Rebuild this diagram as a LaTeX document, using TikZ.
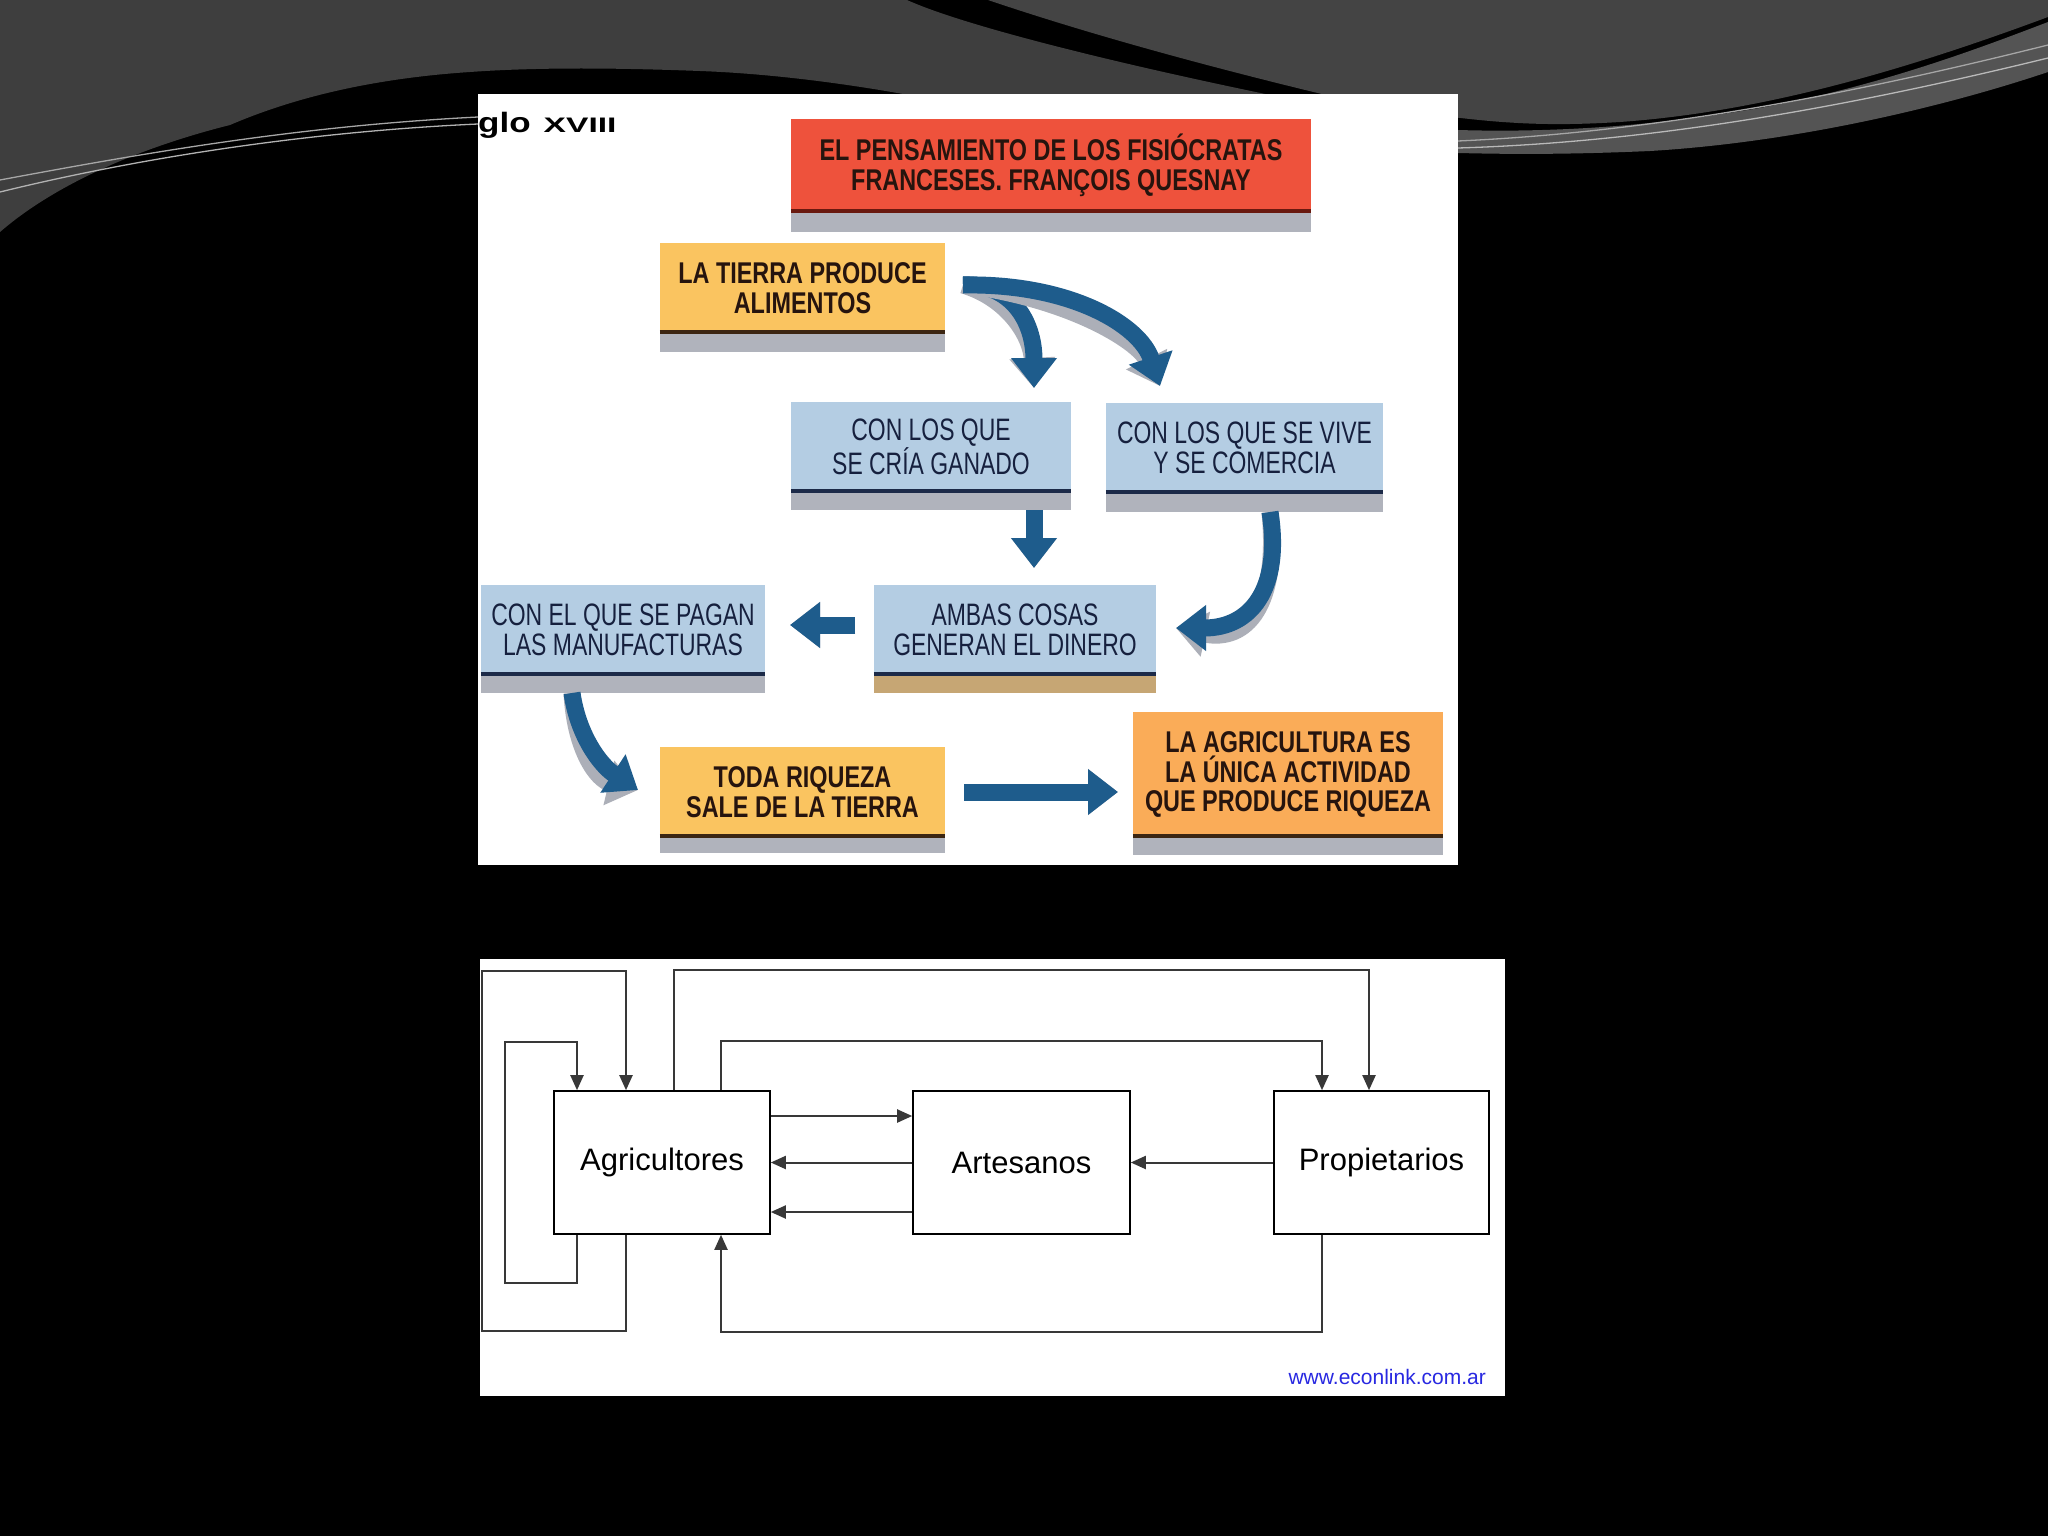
\documentclass[tikz,border=0pt]{standalone}
\usepackage{fontspec}
\setmainfont{Liberation Sans}
\newfontfamily\condbold[FakeStretch=0.78]{Liberation Sans}
\newfontfamily\condreg[FakeStretch=0.74]{Liberation Sans}
\usetikzlibrary{arrows.meta,calc}
\definecolor{bggray}{RGB}{62,62,62}
\definecolor{bggrayb}{RGB}{68,68,68}
\definecolor{swoosh}{RGB}{84,84,84}
\definecolor{titlered}{RGB}{238,82,60}
\definecolor{titleline}{RGB}{105,25,15}
\definecolor{cardyellow}{RGB}{250,196,96}
\definecolor{cardorange}{RGB}{250,172,88}
\definecolor{cardblue}{RGB}{180,205,227}
\definecolor{stripgray}{RGB}{176,179,188}
\definecolor{striptan}{RGB}{198,166,116}
\definecolor{linebrown}{RGB}{60,38,18}
\definecolor{linenavy}{RGB}{28,42,72}
\definecolor{txtdark}{RGB}{38,20,14}
\definecolor{txtnavy}{RGB}{22,32,62}
\definecolor{arrowblue}{RGB}{30,92,140}
\definecolor{shadowgray}{RGB}{172,175,184}
\definecolor{urlblue}{RGB}{40,40,225}
\newcommand\cardfoot[4]{%
  \fill[#3] (#1.south west) rectangle ([yshift=-#2]#1.south east);
  \draw[#4, line width=4pt] ([yshift=1pt]#1.south west) -- ([yshift=1pt]#1.south east);}
\newcommand\fatarrow[1]{\draw[bigshadow] #1; \draw[bigarrow] #1;}
\begin{document}
\begin{tikzpicture}[x=1pt,y=-1pt,
  boldcard/.style={inner sep=0pt, align=center, text=txtdark, font=\condbold\bfseries\fontsize{30}{29.5}\selectfont},
  bluecard/.style={inner sep=0pt, align=center, fill=cardblue, text=txtnavy, font=\condreg\fontsize{31}{30}\selectfont},
  bigarrow/.style={draw=arrowblue, line width=17pt, -{Triangle[width=44pt,length=30pt]}},
  bigshadow/.style={draw=shadowgray, line width=17pt, -{Triangle[width=44pt,length=30pt]}, shift={(-3,15)}},
  actor/.style={draw=black, line width=1.6pt, fill=white, inner sep=0pt, minimum width=216pt, minimum height=143pt, font=\fontsize{31}{36}\selectfont},
  flow/.style={draw=black!78, line width=2pt, -{Triangle[width=13pt,length=15pt]}}
]
\useasboundingbox (0,0) rectangle (2048,1536);
% background
\fill[black] (0,0) rectangle (2048,1536);
\fill[bggray] (0,0) -- (907,0) .. controls (960,24) and (1100,60) .. (1275,96) -- (914,96)
  .. controls (860,86) and (780,74) .. (700,71) .. controls (620,68) and (540,67) .. (470,72)
  .. controls (380,78) and (300,95) .. (230,125) .. controls (150,145) and (60,180) .. (0,232) -- cycle;
\fill[bggrayb] (988,0) -- (2048,0) -- (2048,17) .. controls (1900,72) and (1760,112) .. (1620,122)
  .. controls (1540,127) and (1490,123) .. (1400,110) -- (1330,96) .. controls (1230,72) and (1100,38) .. (988,0) -- cycle;
\fill[swoosh] (1458,130) .. controls (1560,133) and (1660,125) .. (1760,108) .. controls (1880,86) and (1980,48) .. (2048,22)
  -- (2048,72) .. controls (1950,105) and (1800,142) .. (1650,151) .. controls (1560,155) and (1500,154) .. (1458,153) -- cycle;
\draw[gray!70, line width=1.3pt] (1458,141) .. controls (1660,132) and (1860,92) .. (2048,45);
\draw[gray!55, line width=1.3pt] (1458,148) .. controls (1660,142) and (1860,104) .. (2048,58);
\draw[gray!70, line width=1.3pt] (0,180) .. controls (150,152) and (300,126) .. (478,117);
\draw[gray!60, line width=1.3pt] (0,192) .. controls (130,160) and (300,132) .. (478,124);
% panels
\fill[white] (478,94) rectangle (1458,865);
\fill[white] (480,959) rectangle (1505,1396);
\node[anchor=base west, inner sep=0pt, font=\bfseries\fontsize{28}{30}\selectfont] (siglo) at (478,133)
  {\scalebox{1.25}[1]{glo}\hspace{13pt}\scalebox{1.6}[1]{\fontsize{21}{24}\selectfont XVIII}};
% cards
\node[boldcard, fill=titlered, minimum width=520pt, minimum height=93pt] (title) at (1051,165.5)
  {EL PENSAMIENTO DE LOS FISIÓCRATAS\\FRANCESES. FRANÇOIS QUESNAY};
\cardfoot{title}{20pt}{stripgray}{titleline}
\node[boldcard, fill=cardyellow, minimum width=285pt, minimum height=90pt] (tierra) at (802.5,288)
  {LA TIERRA PRODUCE\\ALIMENTOS};
\cardfoot{tierra}{19pt}{stripgray}{linebrown}
\node[bluecard, minimum width=280pt, minimum height=90pt] (ganado) at (931,447)
  {CON LOS QUE\\SE CRÍA GANADO};
\cardfoot{ganado}{18pt}{stripgray}{linenavy}
\node[bluecard, minimum width=277pt, minimum height=90pt] (comercia) at (1244.5,448)
  {CON LOS QUE SE VIVE\\Y SE COMERCIA};
\cardfoot{comercia}{19pt}{stripgray}{linenavy}
\node[bluecard, minimum width=284pt, minimum height=90pt] (manuf) at (623,630)
  {CON EL QUE SE PAGAN\\LAS MANUFACTURAS};
\cardfoot{manuf}{18pt}{stripgray}{linenavy}
\node[bluecard, minimum width=282pt, minimum height=90pt] (ambas) at (1015,630)
  {AMBAS COSAS\\GENERAN EL DINERO};
\cardfoot{ambas}{18pt}{striptan}{linenavy}
\node[boldcard, fill=cardyellow, minimum width=285pt, minimum height=90pt] (toda) at (802.5,792)
  {TODA RIQUEZA\\SALE DE LA TIERRA};
\cardfoot{toda}{16pt}{stripgray}{linebrown}
\node[boldcard, fill=cardorange, minimum width=310pt, minimum height=125pt] (unica) at (1288,774.5)
  {LA AGRICULTURA ES\\LA ÚNICA ACTIVIDAD\\QUE PRODUCE RIQUEZA};
\cardfoot{unica}{18pt}{stripgray}{linebrown}
% blue arrows
\coordinate (s1) at (963,285);
\coordinate (e1) at (1034,388);
\coordinate (e2) at (1160,386);
\coordinate (s3) at (1034,510);
\coordinate (e3) at (1034,568);
\coordinate (s4) at (1270,512);
\coordinate (e4) at (1176,628);
\coordinate (s5) at (855,625);
\coordinate (e5) at (790,625);
\coordinate (s6) at (572,693);
\coordinate (e6) at (638,790);
\coordinate (s7) at (964,792);
\coordinate (e7) at (1118,792);
\fatarrow{(s1) .. controls (1010,283) and (1034,320) .. (e1)}
\fatarrow{(s1) .. controls (1070,283) and (1140,325) .. (e2)}
\fatarrow{(s3) -- (e3)}
\fatarrow{(s4) .. controls (1282,590) and (1250,628) .. (e4)}
\fatarrow{(s5) -- (e5)}
\fatarrow{(s6) .. controls (578,735) and (600,765) .. (e6)}
\fatarrow{(s7) -- (e7)}
% bottom diagram
\node[actor] (agri) at (662,1162.5) {Agricultores};
\node[actor, minimum width=217pt] (arte) at (1021.5,1162.5) {Artesanos};
\node[actor, minimum width=215pt] (prop) at (1381.5,1162.5) {Propietarios};
\coordinate (o1) at (482,1331);
\coordinate (o2) at (482,971);
\coordinate (i1) at (505,1283);
\coordinate (i2) at (505,1042);
\draw[flow] ([xshift=-36pt]agri.south) |- (o1) -- (o2) -| ([xshift=-36pt]agri.north);
\draw[flow] ([xshift=-85pt]agri.south) |- (i1) -- (i2) -| ([xshift=-85pt]agri.north);
\draw[flow] ([xshift=12pt]agri.north) -- ++(0,-120) -| ([xshift=-12.5pt]prop.north);
\draw[flow] ([xshift=59pt]agri.north) -- ++(0,-49) -| ([xshift=-59.5pt]prop.north);
\draw[flow] ([xshift=-59.5pt]prop.south) -- ++(0,97) -| ([xshift=59pt]agri.south);
\draw[flow] ([yshift=46.5pt]agri.east) -- ([yshift=46.5pt]arte.west);
\draw[flow] (arte.west) -- (agri.east);
\draw[flow] ([yshift=-49.5pt]arte.west) -- ([yshift=-49.5pt]agri.east);
\draw[flow] (prop.west) -- (arte.east);
\node[anchor=base east, inner sep=0pt, text=urlblue, font=\fontsize{21}{24}\selectfont] (url) at (1486,1384) {www.econlink.com.ar};
\end{tikzpicture}
\end{document}
